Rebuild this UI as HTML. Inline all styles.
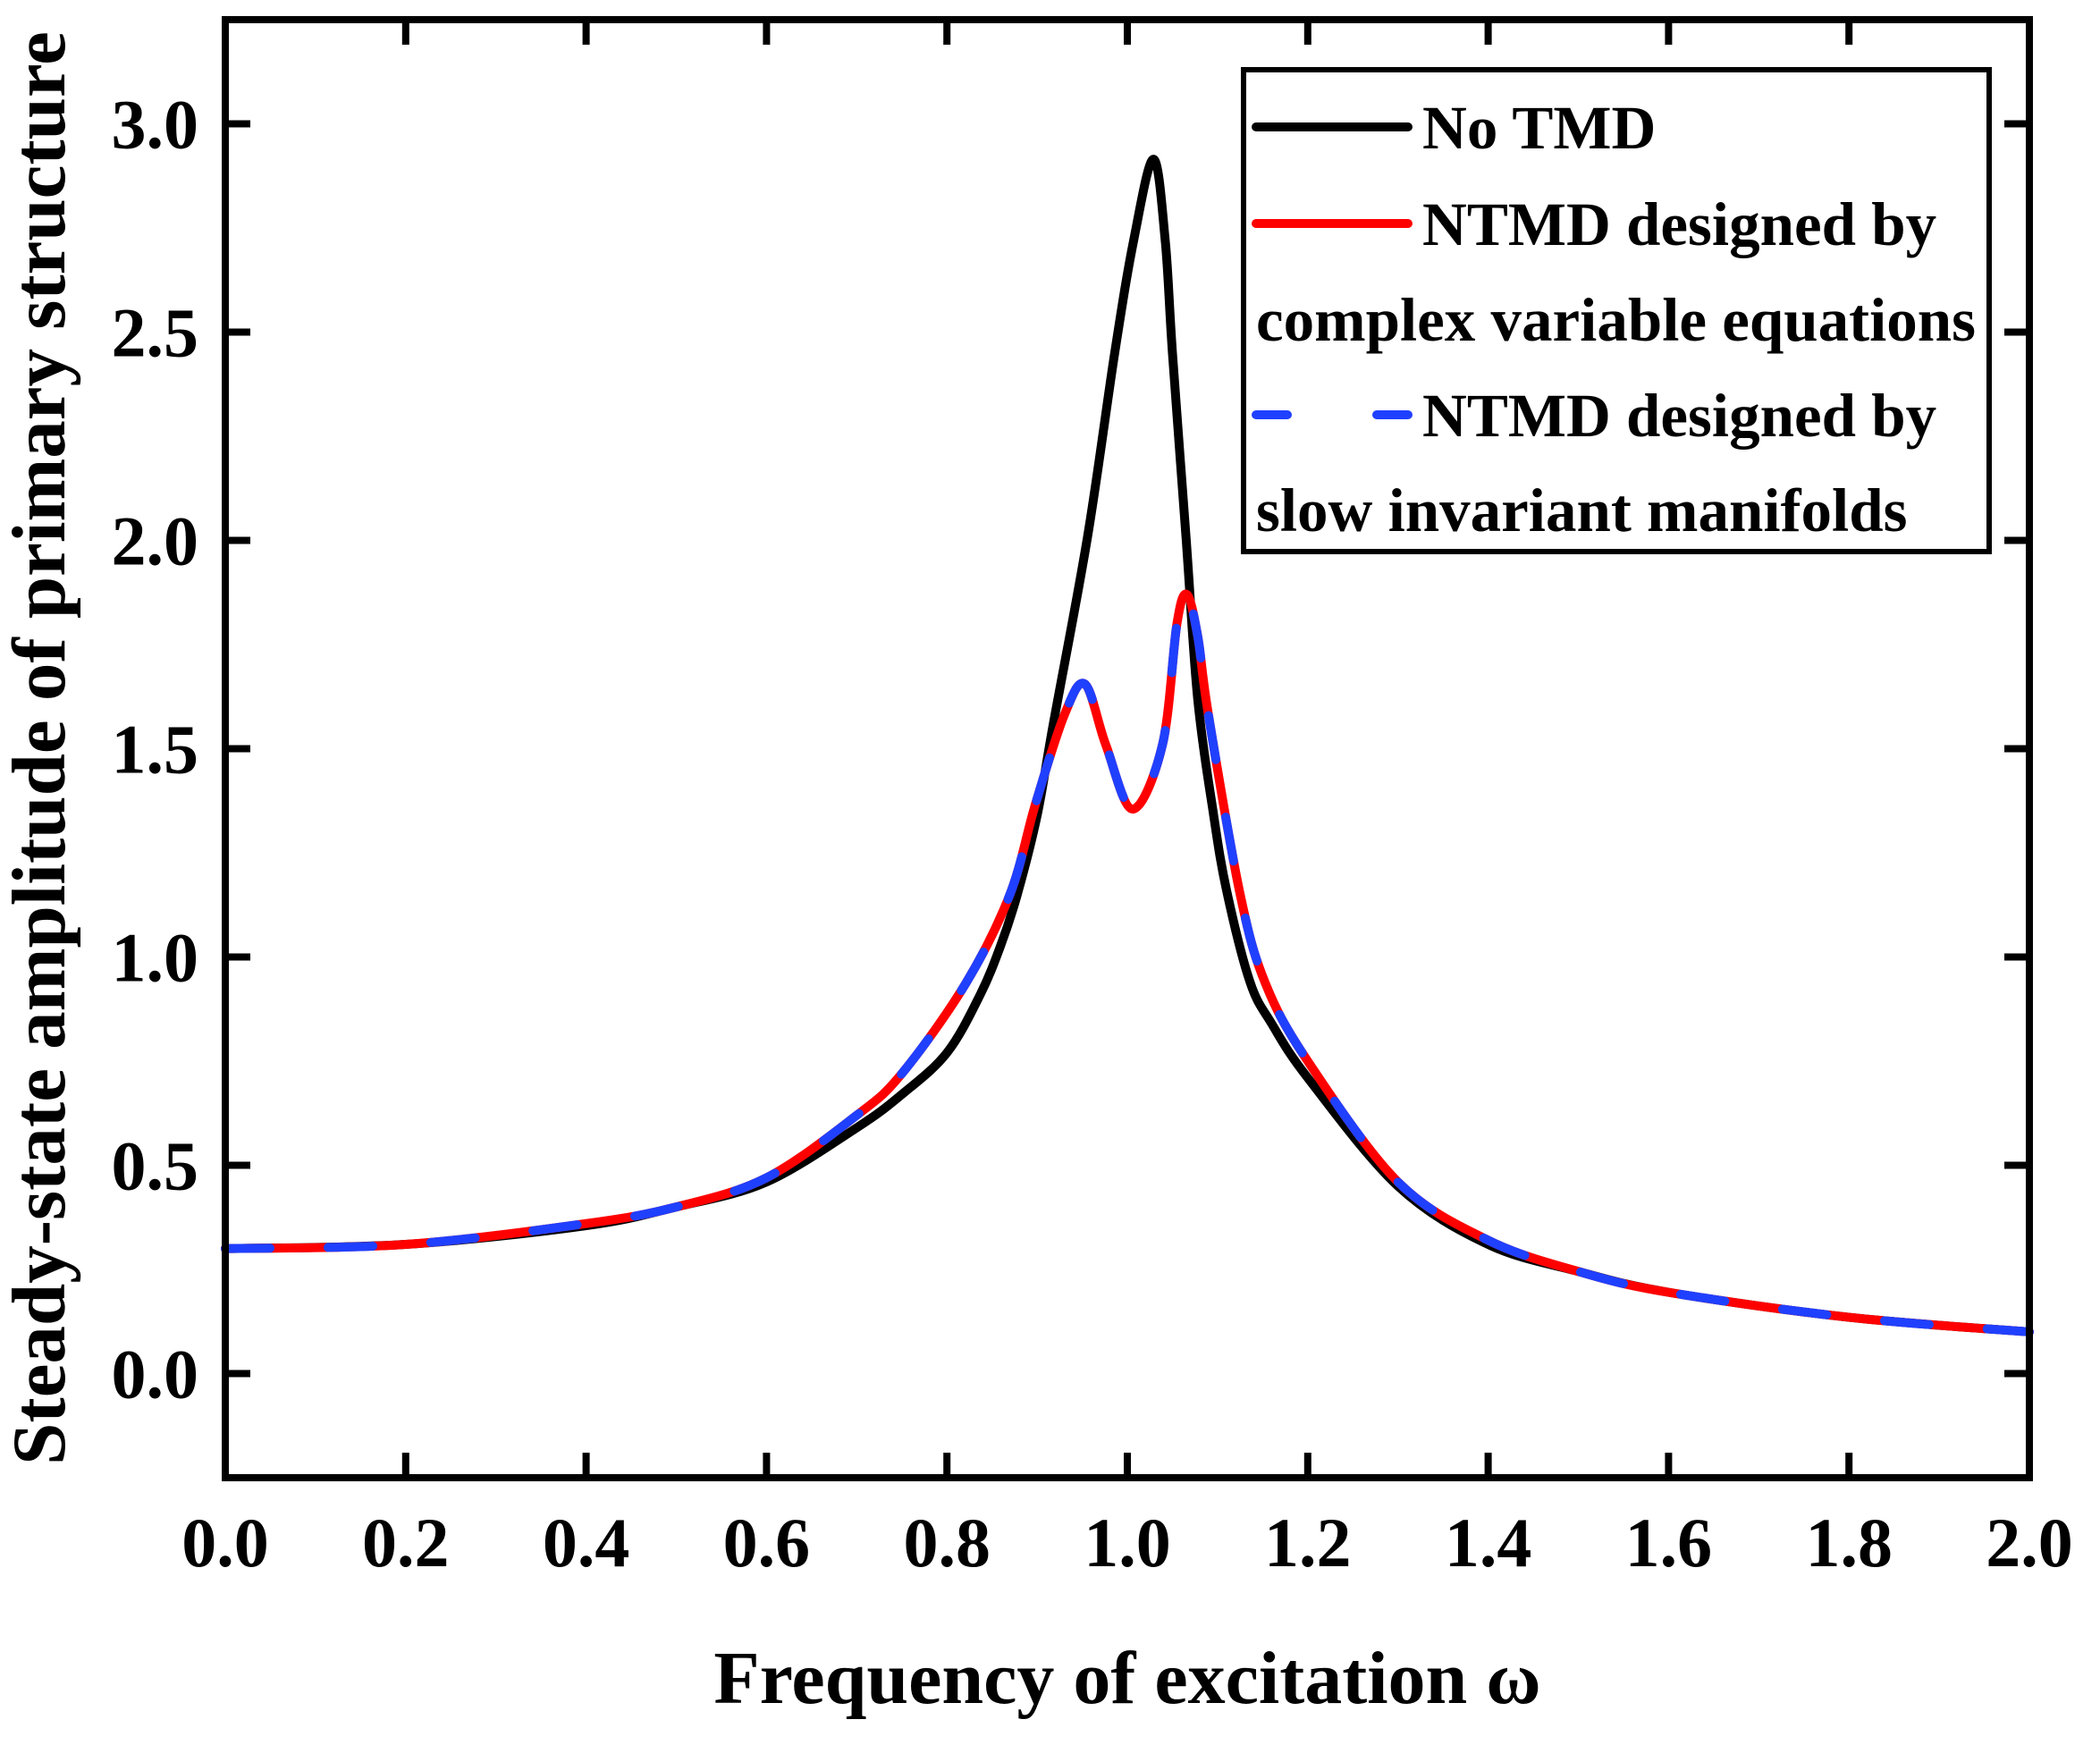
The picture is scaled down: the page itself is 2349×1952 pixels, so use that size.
<!DOCTYPE html>
<html><head><meta charset="utf-8"><style>
html,body{margin:0;padding:0;background:#fff;}
svg{display:block;font-family:"Liberation Serif",serif;font-weight:bold;}
</style></head><body>
<svg id="chart" width="2349" height="1952" viewBox="0 0 2349 1952" xmlns="http://www.w3.org/2000/svg">
<g id="ticks"></g>
<g id="series"></g>
<rect x="252" y="22" width="2018" height="1631" fill="none" stroke="#000" stroke-width="8"/>
<text x="1261" y="1905" font-size="84" text-anchor="middle">Frequency of excitation ω</text>
<text transform="translate(72,837) rotate(-90)" font-size="85" text-anchor="middle">Steady-state amplitude of primary structure</text>
<g>
<rect x="1391" y="78" width="834" height="539" fill="#fff" stroke="#000" stroke-width="6"/>
<line x1="1405" y1="142" x2="1575" y2="142" stroke="#000" stroke-width="10" stroke-linecap="round"/>
<text x="1591" y="166" font-size="69">No TMD</text>
<line x1="1405" y1="250" x2="1575" y2="250" stroke="#ff0000" stroke-width="10" stroke-linecap="round"/>
<text x="1591" y="274" font-size="69">NTMD designed by</text>
<text x="1405" y="381" font-size="69">complex variable equations</text>
<line x1="1405" y1="464" x2="1575" y2="464" stroke="#2040ff" stroke-width="10" stroke-linecap="round" stroke-dasharray="35,100"/>
<text x="1591" y="488" font-size="69">NTMD designed by</text>
<text x="1405" y="594" font-size="69">slow invariant manifolds</text>
</g>
</svg>
<script>
const xTicks = [0.0,0.2,0.4,0.6,0.8,1.0,1.2,1.4,1.6,1.8,2.0];
const xTickLabels = ["0.0","0.2","0.4","0.6","0.8","1.0","1.2","1.4","1.6","1.8","2.0"];
const yTicks = [0.0,0.5,1.0,1.5,2.0,2.5,3.0];
const yTickLabels = ["0.0","0.5","1.0","1.5","2.0","2.5","3.0"];
const noTmdW = [0,0.2,0.4,0.5,0.6,0.7,0.75,0.8,0.837,0.86,0.878,0.9,0.918,0.956,0.986,1.007,1.029,1.042,1.05,1.065,1.078,1.095,1.11,1.136,1.16,1.2,1.3,1.4,1.5,1.6,1.8,2.0];
const noTmdA = [0.30,0.31,0.355,0.40,0.46,0.59,0.67,0.77,0.91,1.03,1.15,1.34,1.56,2.01,2.45,2.72,2.915,2.72,2.45,2.01,1.62,1.35,1.16,0.94,0.84,0.71,0.45,0.31,0.245,0.195,0.135,0.10];
const cveW = [0,0.2,0.4,0.5,0.6,0.7,0.75,0.821,0.87,0.898,0.93,0.953,0.976,1.006,1.039,1.055,1.066,1.078,1.09,1.125,1.153,1.2,1.3,1.4,1.5,1.6,1.8,2.0];
const cveA = [0.30,0.31,0.36,0.40,0.47,0.62,0.72,0.937,1.151,1.366,1.58,1.655,1.51,1.355,1.51,1.80,1.87,1.77,1.58,1.151,0.937,0.75,0.46,0.32,0.245,0.195,0.135,0.10];
const simW = [0,0.2,0.4,0.5,0.6,0.7,0.75,0.821,0.87,0.898,0.93,0.953,0.976,1.006,1.039,1.055,1.066,1.078,1.09,1.125,1.153,1.2,1.3,1.4,1.5,1.6,1.8,2.0];
const simA = [0.30,0.31,0.36,0.40,0.47,0.62,0.72,0.937,1.151,1.366,1.58,1.655,1.51,1.355,1.51,1.80,1.87,1.77,1.58,1.151,0.937,0.75,0.46,0.32,0.245,0.195,0.135,0.10];

const X0=252,X1=2270,Y0=1653,Y1=22,XMIN=0,XMAX=2,YMIN=-0.25,YMAX=3.25;
function sx(v){return X0+(v-XMIN)/(XMAX-XMIN)*(X1-X0);}
function sy(v){return Y0-(v-YMIN)/(YMAX-YMIN)*(Y0-Y1);}
const NS="http://www.w3.org/2000/svg";
const tg=document.getElementById('ticks');
xTicks.forEach((t,i)=>{
  const x=sx(t);
  if(i>0&&i<xTicks.length-1){
    const l1=document.createElementNS(NS,'line');
    
    
    l1.setAttribute('x1',x);l1.setAttribute('x2',x);l1.setAttribute('y1',Y0);l1.setAttribute('y2',Y0-28);
    l1.setAttribute('stroke','#000');l1.setAttribute('stroke-width','8');tg.appendChild(l1);
    const l2=document.createElementNS(NS,'line');
    
    
    l2.setAttribute('x1',x);l2.setAttribute('x2',x);l2.setAttribute('y1',Y1);l2.setAttribute('y2',Y1+28);
    l2.setAttribute('stroke','#000');l2.setAttribute('stroke-width','8');tg.appendChild(l2);
  }
  const tx=document.createElementNS(NS,'text');
  
  
  tx.setAttribute('x',x);tx.setAttribute('y',1752);tx.setAttribute('font-size','78');tx.setAttribute('text-anchor','middle');
  tx.textContent=xTickLabels[i];tg.appendChild(tx);
});
yTicks.forEach((t,i)=>{
  const y=sy(t);
  const l1=document.createElementNS(NS,'line');
  
  
  l1.setAttribute('x1',X0);l1.setAttribute('x2',X0+28);l1.setAttribute('y1',y);l1.setAttribute('y2',y);
  l1.setAttribute('stroke','#000');l1.setAttribute('stroke-width','8');tg.appendChild(l1);
  const l2=document.createElementNS(NS,'line');
  
  
  l2.setAttribute('x1',X1);l2.setAttribute('x2',X1-28);l2.setAttribute('y1',y);l2.setAttribute('y2',y);
  l2.setAttribute('stroke','#000');l2.setAttribute('stroke-width','8');tg.appendChild(l2);
  const tx=document.createElementNS(NS,'text');
  
  
  tx.setAttribute('x',222);tx.setAttribute('y',y+27);tx.setAttribute('font-size','78');tx.setAttribute('text-anchor','end');
  tx.textContent=yTickLabels[i];tg.appendChild(tx);
});
function pathD(ws,as){
  const p=ws.map((w,i)=>[sx(w),sy(as[i])]);
  let d='M'+p[0][0]+','+p[0][1];
  for(let i=0;i<p.length-1;i++){
    const p0=p[Math.max(0,i-1)],p1=p[i],p2=p[i+1],p3=p[Math.min(p.length-1,i+2)];
    const c1x=p1[0]+(p2[0]-p0[0])/6,c1y=p1[1]+(p2[1]-p0[1])/6;
    const c2x=p2[0]-(p3[0]-p1[0])/6,c2y=p2[1]-(p3[1]-p1[1])/6;
    d+=' C'+c1x+','+c1y+' '+c2x+','+c2y+' '+p2[0]+','+p2[1];
  }
  return d;
}
const sg=document.getElementById('series');
function addSeries(name,ws,as,color,dash){
  const el=document.createElementNS(NS,'path');
  
  
  el.setAttribute('d',pathD(ws,as));
  el.setAttribute('fill','none');el.setAttribute('stroke',color);el.setAttribute('stroke-width','10');
  el.setAttribute('stroke-linecap','round');el.setAttribute('stroke-linejoin','round');
  if(dash)el.setAttribute('stroke-dasharray',dash);
  sg.appendChild(el);
}
addSeries('no-tmd-line',noTmdW,noTmdA,'#000',null);
addSeries('ntmd-complex-variable-line',cveW,cveA,'#ff0000',null);
addSeries('ntmd-slow-manifold-line',simW,simA,'#2040ff','50,65');
</script>
</body></html>
